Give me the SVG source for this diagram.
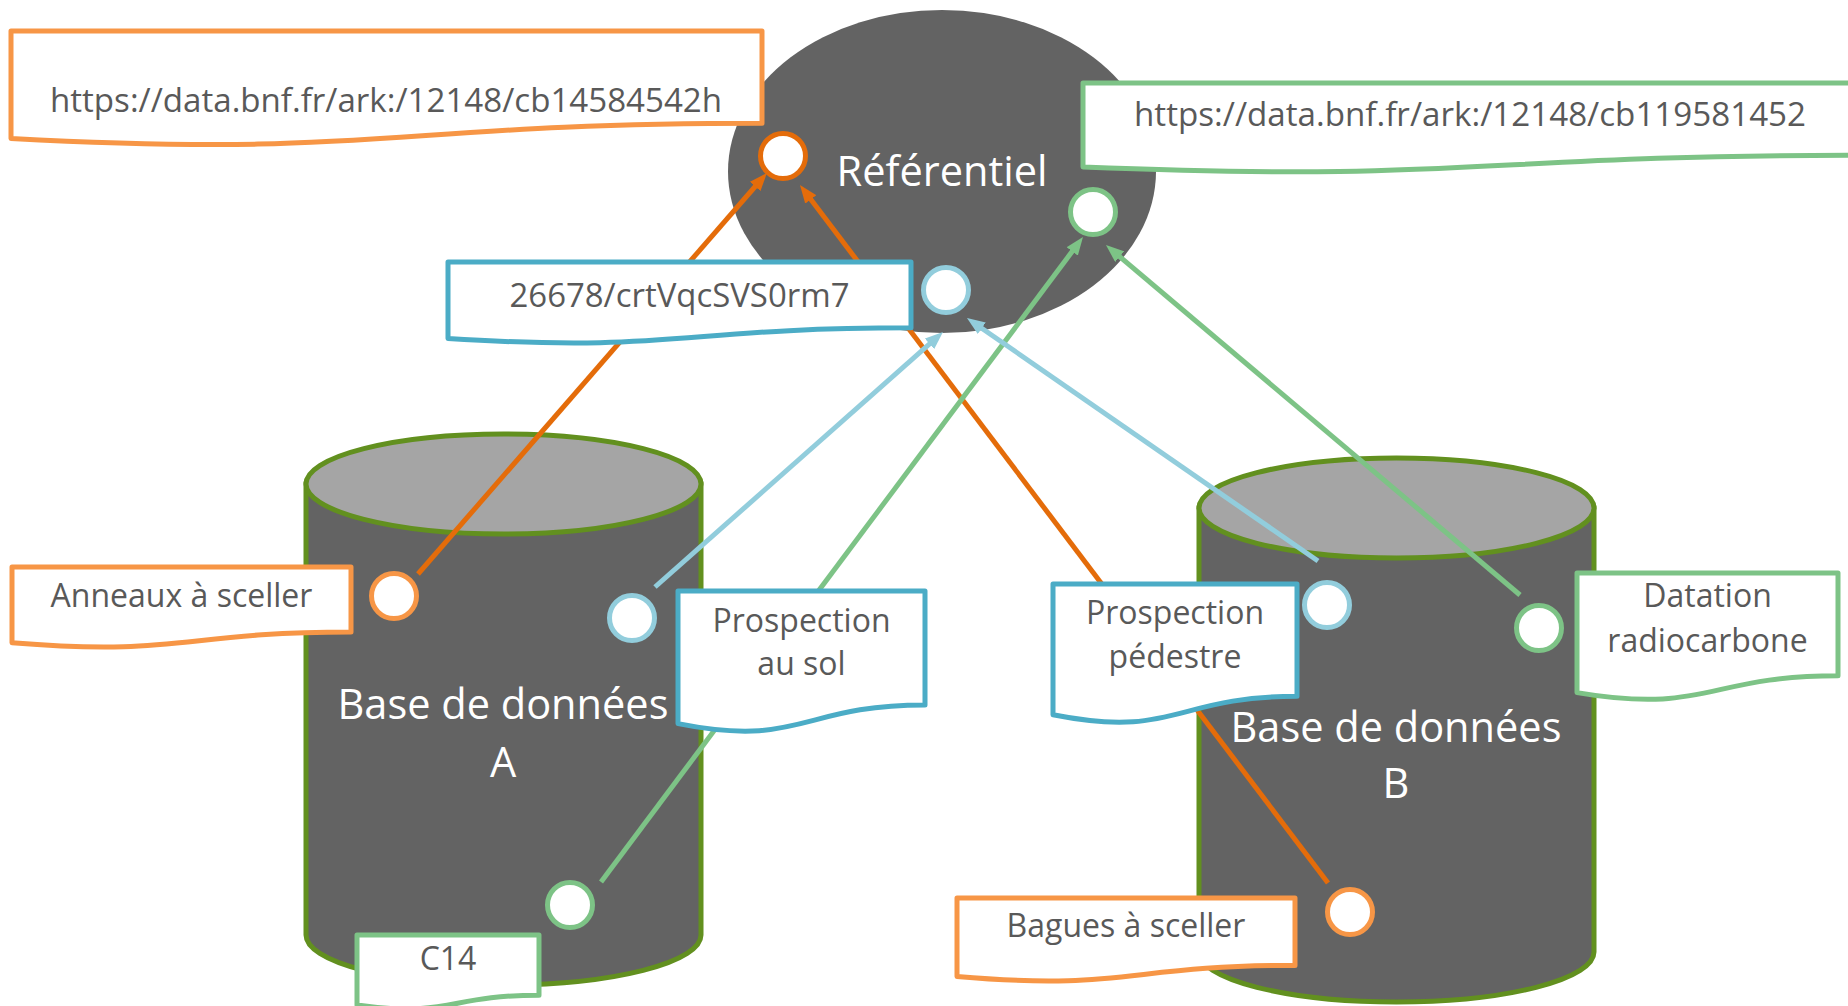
<svg xmlns="http://www.w3.org/2000/svg" width="1848" height="1006" viewBox="0 0 1848 1006">
<defs>
<style>
.cyl{fill:#636363;stroke:#62901F;stroke-width:5}
.cyltop{fill:#A5A5A5;stroke:#62901F;stroke-width:5}
.big{font-family:"Open Sans","Noto Sans",sans-serif;font-size:41.5px;fill:#FFFFFF;text-anchor:middle}
.lbl{font-family:"Open Sans","Noto Sans",sans-serif;font-size:32px;fill:#595959;text-anchor:middle}
.doc{fill:#FFFFFF;stroke-width:5;stroke-linejoin:round}
.bo{stroke:#F79646}.bb{stroke:#4BACC6}.bg{stroke:#7DC386}
.pt{fill:#FFFFFF;stroke-width:5}
.po{stroke:#F79646}.pod{stroke:#E46C0A}.pb{stroke:#92CDDC}.pg{stroke:#7DC386}
.ln{fill:none;stroke-width:5}
</style>
<marker id="aO" viewBox="0 0 18 14" refX="8" refY="7" markerWidth="18" markerHeight="14" markerUnits="userSpaceOnUse" orient="auto"><path d="M0,0 L18,7 L0,14 Z" fill="#E46C0A"/></marker>
<marker id="aB" viewBox="0 0 18 14" refX="8" refY="7" markerWidth="18" markerHeight="14" markerUnits="userSpaceOnUse" orient="auto"><path d="M0,0 L18,7 L0,14 Z" fill="#92CDDC"/></marker>
<marker id="aG" viewBox="0 0 18 14" refX="8" refY="7" markerWidth="18" markerHeight="14" markerUnits="userSpaceOnUse" orient="auto"><path d="M0,0 L18,7 L0,14 Z" fill="#7DC386"/></marker>
</defs>
<rect width="1848" height="1006" fill="#FFFFFF"/>

<g id="db-a">
<path class="cyl" d="M306,484 L306,935 A197.5,50 0 0 0 701,935 L701,484 Z"/>
<ellipse class="cyltop" cx="503.5" cy="484" rx="197.5" ry="50"/>
<text class="big" x="503" y="719">Base de données</text>
<text class="big" x="503" y="777">A</text>
</g>

<g id="db-b">
<path class="cyl" d="M1199,508 L1199,952 A197.5,50 0 0 0 1594,952 L1594,508 Z"/>
<ellipse class="cyltop" cx="1396.5" cy="508" rx="197.5" ry="50"/>
<text class="big" x="1396" y="742">Base de données</text>
<text class="big" x="1396" y="798">B</text>
</g>

<g id="referentiel">
<ellipse cx="942" cy="171.5" rx="214" ry="161.5" fill="#636363"/>
<text class="big" x="942" y="186">Référentiel</text>
</g>

<g id="connectors">
<path class="ln" stroke="#E46C0A" d="M418,574 L760.4,180.5" marker-end="url(#aO)"/>
<path class="ln" stroke="#E46C0A" d="M1328,883 L806,193" marker-end="url(#aO)"/>
<path class="ln" stroke="#7DC386" d="M601,882 L1077,245" marker-end="url(#aG)"/>
<path class="ln" stroke="#7DC386" d="M1520,595 L1113.6,251.5" marker-end="url(#aG)"/>
<path class="ln" stroke="#92CDDC" d="M655,587 L935.5,338.6" marker-end="url(#aB)"/>
<path class="ln" stroke="#92CDDC" d="M1318,561 L975.2,323.7" marker-end="url(#aB)"/>
</g>

<g id="pt-ref-orange"><circle class="pt pod" cx="783" cy="156" r="22.5"/></g>
<g id="pt-ref-green"><circle class="pt pg" cx="1093" cy="212" r="22.5"/></g>
<g id="pt-ref-blue"><circle class="pt pb" cx="946" cy="290" r="22.5"/></g>
<g id="pt-a-orange"><circle class="pt po" cx="394" cy="596" r="22.5"/></g>
<g id="pt-a-blue"><circle class="pt pb" cx="632" cy="618" r="22.5"/></g>
<g id="pt-a-green"><circle class="pt pg" cx="570" cy="905" r="22.5"/></g>
<g id="pt-b-blue"><circle class="pt pb" cx="1327" cy="605" r="22.5"/></g>
<g id="pt-b-green"><circle class="pt pg" cx="1539" cy="628" r="22.5"/></g>
<g id="pt-b-orange"><circle class="pt po" cx="1350" cy="912" r="22.5"/></g>

<g id="box-url-orange">
<path class="doc bo" d="M11,31 H762 V123.2 C386.5,123.2 386.5,158.3 11,138.4 Z"/>
<text class="lbl" x="386" y="112" textLength="672" lengthAdjust="spacingAndGlyphs">https://data.bnf.fr/ark:/12148/cb14584542h</text>
</g>
<g id="box-url-green">
<path class="doc bg" d="M1083,83 H1863 V155.2 C1473,155.2 1473,182.6 1083,167.1 Z"/>
<text class="lbl" x="1470" y="126" textLength="672" lengthAdjust="spacingAndGlyphs">https://data.bnf.fr/ark:/12148/cb119581452</text>
</g>
<g id="box-ark">
<path class="doc bb" d="M448,262 H911 V327.8 C679.5,327.8 679.5,352.8 448,338.6 Z"/>
<text class="lbl" x="679.5" y="307" textLength="340" lengthAdjust="spacingAndGlyphs">26678/crtVqcSVS0rm7</text>
</g>
<g id="box-anneaux">
<path class="doc bo" d="M12,567 H351 V632 C181.5,632 181.5,656.7 12,642.7 Z"/>
<text class="lbl" x="181.5" y="607">Anneaux à sceller</text>
</g>
<g id="box-prospection-sol">
<path class="doc bb" d="M678,591 H925 V704.9 C801.5,704.9 801.5,748.2 678,723.6 Z"/>
<text class="lbl" x="801.5" y="632">Prospection</text>
<text class="lbl" x="801.5" y="675">au sol</text>
</g>
<g id="box-c14">
<path class="doc bg" d="M357,935 H539 V995.2 C448,995.2 448,1018 357,1005 Z"/>
<text class="lbl" x="448" y="970">C14</text>
</g>
<g id="box-prospection-pedestre">
<path class="doc bb" d="M1053,584 H1297 V696.3 C1175,696.3 1175,739 1053,714.8 Z"/>
<text class="lbl" x="1175" y="624">Prospection</text>
<text class="lbl" x="1175" y="668">pédestre</text>
</g>
<g id="box-datation">
<path class="doc bg" d="M1577,573 H1838 V675.7 C1707.5,675.7 1707.5,714.7 1577,692.6 Z"/>
<text class="lbl" x="1707.5" y="607">Datation</text>
<text class="lbl" x="1707.5" y="652">radiocarbone</text>
</g>
<g id="box-bagues">
<path class="doc bo" d="M957,898 H1295 V965.4 C1126,965.4 1126,991 957,976.5 Z"/>
<text class="lbl" x="1126" y="937">Bagues à sceller</text>
</g>
</svg>
